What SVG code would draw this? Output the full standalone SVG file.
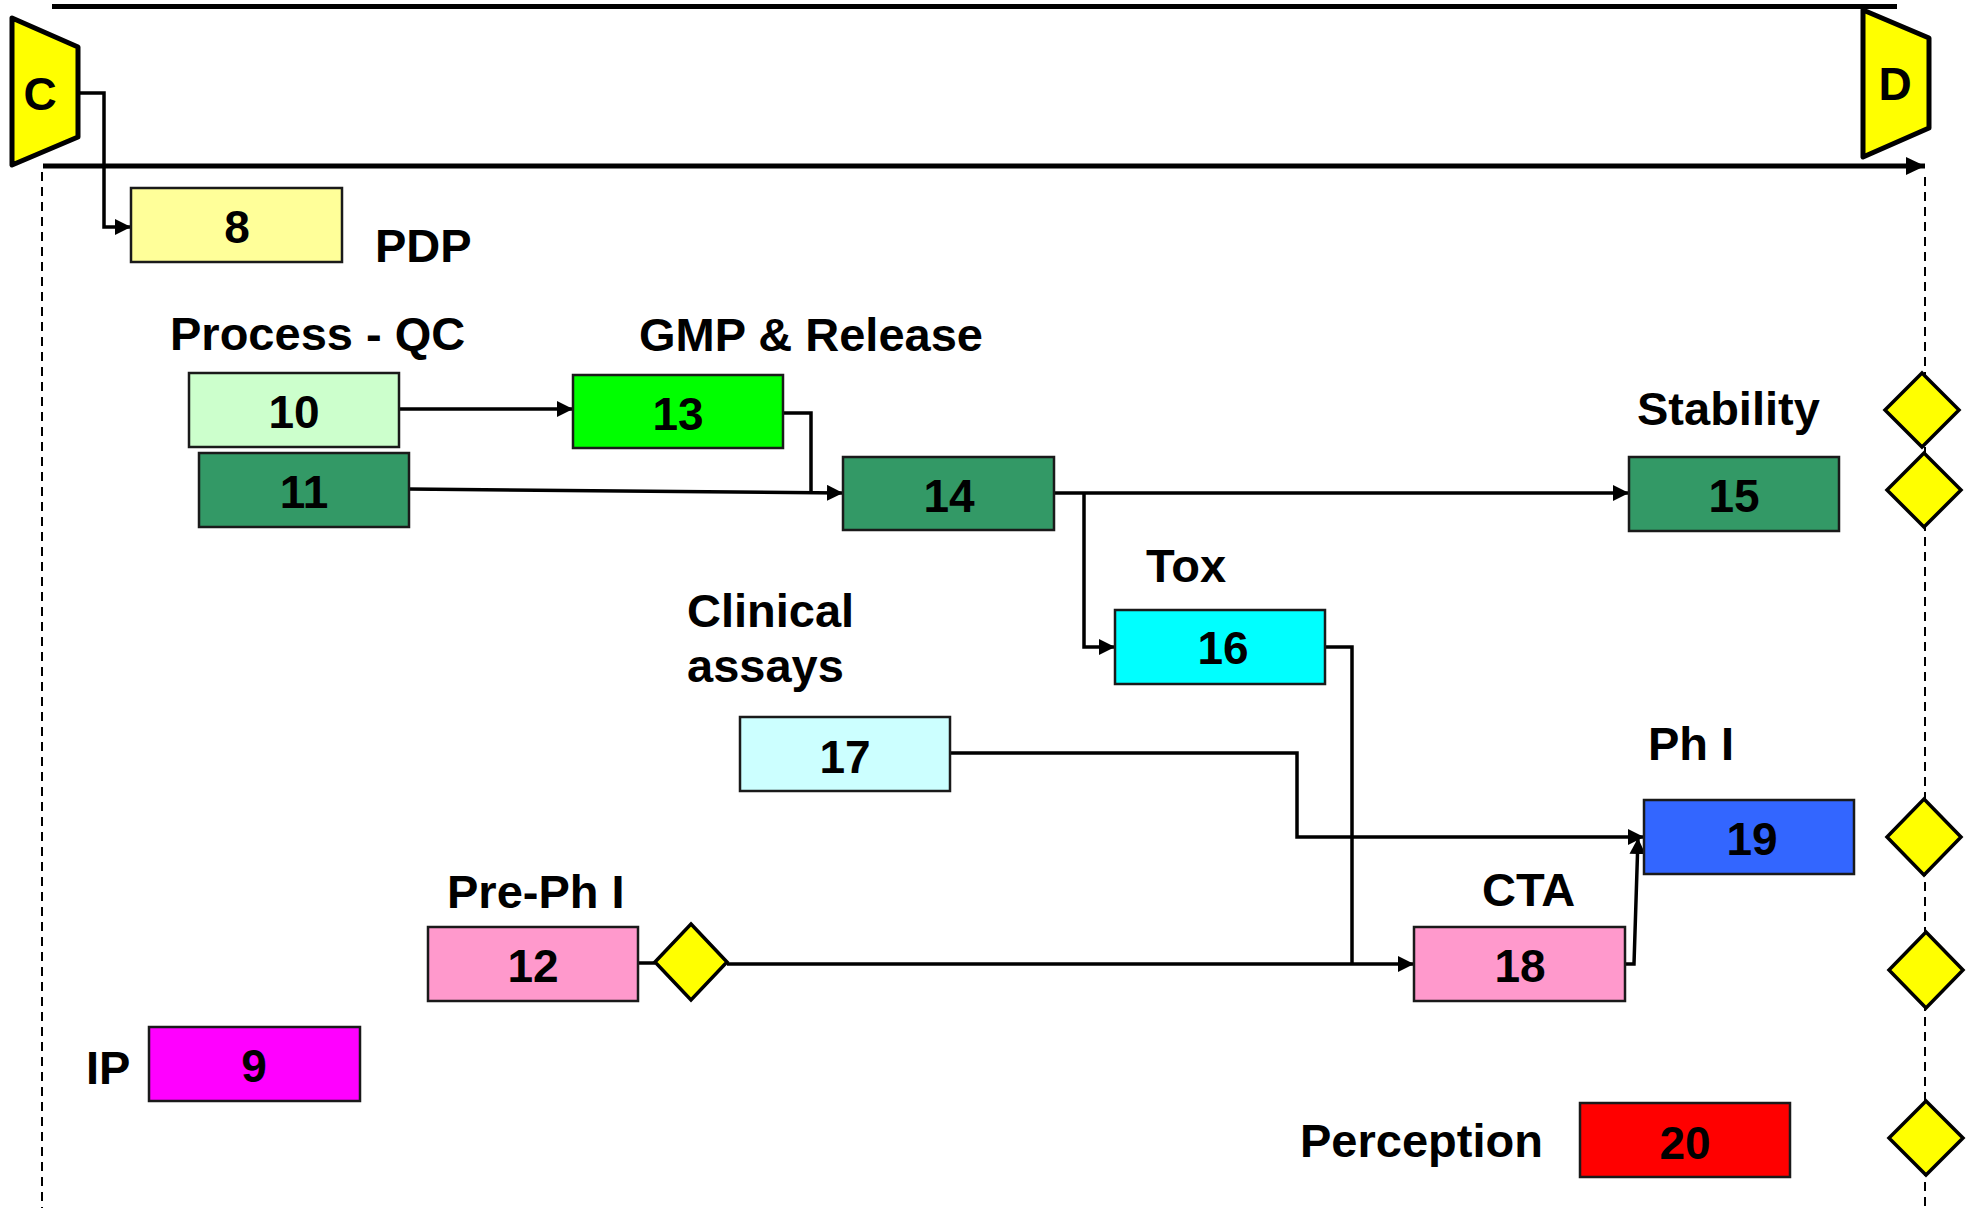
<svg xmlns="http://www.w3.org/2000/svg" width="1972" height="1219" viewBox="0 0 1972 1219">
  <style>
    text { font-family: "Liberation Sans", Arial, sans-serif; font-weight: bold; fill: #000; }
    .num { font-size: 46px; text-anchor: middle; }
    .lbl { font-size: 47px; }
    .box { stroke: #1a1a1a; stroke-width: 2.5; }
    .gate { fill: #FFFF00; stroke: #000; stroke-width: 5; stroke-linejoin: round; }
    .ms { fill: #FFFF00; stroke: #000; stroke-width: 3.5; stroke-linejoin: miter; }
    .conn { fill: none; stroke: #000; stroke-width: 3.5; }
    .rail { fill: none; stroke: #000; stroke-width: 5; }
    .grid { fill: none; stroke: #000; stroke-width: 2; stroke-dasharray: 9 6; }
  </style>
  <defs>
    <marker id="arr" markerUnits="userSpaceOnUse" markerWidth="18" markerHeight="16" refX="16" refY="8" orient="auto">
      <path d="M0,0 L16,8 L0,16 Z" fill="#000"/>
    </marker>
    <marker id="arrBig" markerUnits="userSpaceOnUse" markerWidth="20" markerHeight="18" refX="19" refY="9" orient="auto">
      <path d="M0,0 L19,9 L0,18 Z" fill="#000"/>
    </marker>
  </defs>

  <rect width="1972" height="1219" fill="#fff"/>

  <!-- timeline frame -->
  <g id="frame">
    <line class="grid" x1="42" y1="172" x2="42" y2="1208"/>
    <line class="grid" x1="1925" y1="177" x2="1925" y2="1208"/>
    <line class="rail" x1="52" y1="6.5" x2="1897" y2="6.5"/>
    <line class="rail" x1="43" y1="166" x2="1925" y2="166" marker-end="url(#arrBig)"/>
  </g>

  <!-- connectors -->
  <g id="connectors">
    <polyline class="conn" points="78,93 104,93 104,227 131,227" marker-end="url(#arr)"/>
    <line class="conn" x1="398" y1="409" x2="573" y2="409" marker-end="url(#arr)"/>
    <polyline class="conn" points="783,413 811,413 811,491"/>
    <line class="conn" x1="408" y1="489" x2="843" y2="493" marker-end="url(#arr)"/>
    <line class="conn" x1="1054" y1="493" x2="1629" y2="493" marker-end="url(#arr)"/>
    <polyline class="conn" points="1084,493 1084,647 1115,647" marker-end="url(#arr)"/>
    <polyline class="conn" points="1290,647 1352,647 1352,964"/>
    <polyline class="conn" points="950,753 1297,753 1297,837 1644,837" marker-end="url(#arr)"/>
    <line class="conn" x1="638" y1="963" x2="655" y2="963"/>
    <line class="conn" x1="727" y1="964" x2="1414" y2="964" marker-end="url(#arr)"/>
    <polyline class="conn" points="1625,964 1634,964 1638,838" marker-end="url(#arr)"/>
  </g>

  <!-- gates -->
  <g id="gate-C">
    <polygon class="gate" points="12,18 78,47 78,137 12,165"/>
    <text x="40" y="110" class="num">C</text>
  </g>
  <g id="gate-D">
    <polygon class="gate" points="1863,10 1929,38 1929,128 1863,157"/>
    <text x="1895" y="100" class="num">D</text>
  </g>

  <!-- tasks -->
  <g id="task-8">
    <rect class="box" x="131" y="188" width="211" height="74" fill="#FFFF99"/>
    <text x="237" y="243" class="num">8</text>
    <text x="375" y="262" class="lbl">PDP</text>
  </g>
  <g id="task-10">
    <text x="170" y="350" class="lbl">Process - QC</text>
    <rect class="box" x="189" y="373" width="210" height="74" fill="#CCFFCC"/>
    <text x="294" y="428" class="num">10</text>
  </g>
  <g id="task-11">
    <rect class="box" x="199" y="453" width="210" height="74" fill="#339966"/>
    <text x="304" y="508" class="num">11</text>
  </g>
  <g id="task-13">
    <text x="639" y="351" class="lbl">GMP &amp; Release</text>
    <rect class="box" x="573" y="375" width="210" height="73" fill="#00FF00"/>
    <text x="678" y="430" class="num">13</text>
  </g>
  <g id="task-14">
    <rect class="box" x="843" y="457" width="211" height="73" fill="#339966"/>
    <text x="949" y="512" class="num">14</text>
  </g>
  <g id="task-15">
    <text x="1637" y="425" class="lbl">Stability</text>
    <rect class="box" x="1629" y="457" width="210" height="74" fill="#339966"/>
    <text x="1734" y="512" class="num">15</text>
  </g>
  <g id="task-16">
    <text x="1146" y="582" class="lbl">Tox</text>
    <rect class="box" x="1115" y="610" width="210" height="74" fill="#00FFFF"/>
    <text x="1223" y="664" class="num">16</text>
  </g>
  <g id="task-17">
    <text x="687" y="627" class="lbl">Clinical</text>
    <text x="687" y="682" class="lbl">assays</text>
    <rect class="box" x="740" y="717" width="210" height="74" fill="#CCFFFF"/>
    <text x="845" y="773" class="num">17</text>
  </g>
  <g id="task-19">
    <text x="1648" y="760" class="lbl">Ph I</text>
    <rect class="box" x="1644" y="800" width="210" height="74" fill="#3366FF"/>
    <text x="1752" y="855" class="num">19</text>
  </g>
  <g id="task-12">
    <text x="447" y="908" class="lbl">Pre-Ph I</text>
    <rect class="box" x="428" y="927" width="210" height="74" fill="#FF99CC"/>
    <text x="533" y="982" class="num">12</text>
  </g>
  <g id="task-18">
    <text x="1482" y="906" class="lbl">CTA</text>
    <rect class="box" x="1414" y="927" width="211" height="74" fill="#FF99CC"/>
    <text x="1520" y="982" class="num">18</text>
  </g>
  <g id="task-9">
    <text x="86" y="1084" class="lbl">IP</text>
    <rect class="box" x="149" y="1027" width="211" height="74" fill="#FF00FF"/>
    <text x="254" y="1082" class="num">9</text>
  </g>
  <g id="task-20">
    <text x="1300" y="1157" class="lbl">Perception</text>
    <rect class="box" x="1580" y="1103" width="210" height="74" fill="#FF0000"/>
    <text x="1685" y="1159" class="num">20</text>
  </g>

  <!-- milestones -->
  <g id="milestone-12">
    <polygon class="ms" points="691,924 727,962 691,1000 655,962"/>
  </g>
  <g id="milestone-stability-a">
    <polygon class="ms" points="1922,373 1959,410 1922,447 1885,410"/>
  </g>
  <g id="milestone-stability-b">
    <polygon class="ms" points="1924,453 1961,490 1924,527 1887,490"/>
  </g>
  <g id="milestone-phI">
    <polygon class="ms" points="1924,799 1961,837 1924,875 1887,837"/>
  </g>
  <g id="milestone-cta">
    <polygon class="ms" points="1926,932 1963,970 1926,1008 1889,970"/>
  </g>
  <g id="milestone-perception">
    <polygon class="ms" points="1926,1101 1963,1138 1926,1175 1889,1138"/>
  </g>
</svg>
